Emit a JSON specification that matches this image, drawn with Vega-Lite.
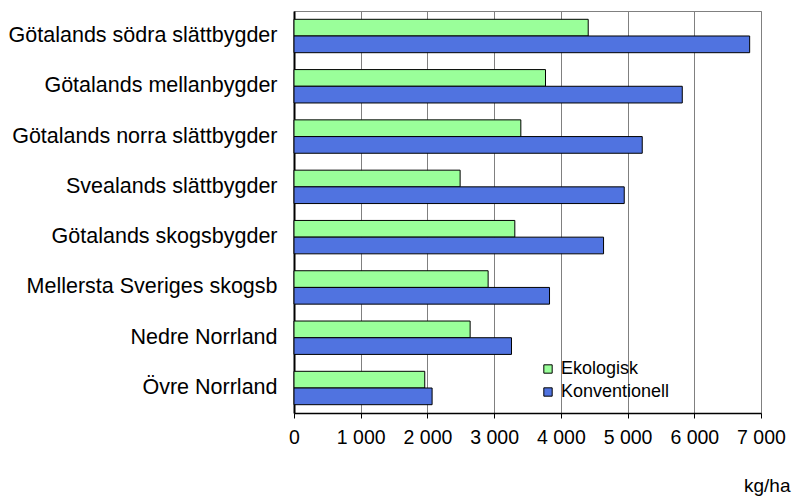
{
  "$schema": "https://vega.github.io/schema/vega-lite/v6.json",
  "width": 467,
  "height": 402,
  "autosize": {"type": "none"},
  "padding": {"left": 294, "top": 11, "right": 31, "bottom": 84},
  "background": "white",
  "data": {
    "values": [
      {"region": "Götalands södra slättbygder", "typ": "Ekologisk", "kg": 4410},
      {"region": "Götalands södra slättbygder", "typ": "Konventionell", "kg": 6830},
      {"region": "Götalands mellanbygder", "typ": "Ekologisk", "kg": 3770},
      {"region": "Götalands mellanbygder", "typ": "Konventionell", "kg": 5820},
      {"region": "Götalands norra slättbygder", "typ": "Ekologisk", "kg": 3400},
      {"region": "Götalands norra slättbygder", "typ": "Konventionell", "kg": 5220},
      {"region": "Svealands slättbygder", "typ": "Ekologisk", "kg": 2490},
      {"region": "Svealands slättbygder", "typ": "Konventionell", "kg": 4950},
      {"region": "Götalands skogsbygder", "typ": "Ekologisk", "kg": 3310},
      {"region": "Götalands skogsbygder", "typ": "Konventionell", "kg": 4640},
      {"region": "Mellersta Sveriges skogsb", "typ": "Ekologisk", "kg": 2910},
      {"region": "Mellersta Sveriges skogsb", "typ": "Konventionell", "kg": 3830},
      {"region": "Nedre Norrland", "typ": "Ekologisk", "kg": 2640},
      {"region": "Nedre Norrland", "typ": "Konventionell", "kg": 3260},
      {"region": "Övre Norrland", "typ": "Ekologisk", "kg": 1960},
      {"region": "Övre Norrland", "typ": "Konventionell", "kg": 2070}
    ]
  },
  "mark": {"type": "bar", "stroke": "black", "strokeWidth": 1},
  "encoding": {
    "y": {
      "field": "region",
      "type": "nominal",
      "sort": null,
      "scale": {"paddingInner": 0.336, "paddingOuter": 0.165},
      "axis": {
        "title": null,
        "ticks": false,
        "labelFont": "Liberation Sans",
        "labelFontSize": 21.5,
        "labelColor": "black",
        "labelPadding": 17,
        "labelLimit": 400,
        "domainColor": "black",
        "domainWidth": 2,
        "grid": false
      }
    },
    "yOffset": {
      "field": "typ",
      "type": "nominal",
      "sort": ["Ekologisk", "Konventionell"],
      "scale": {"paddingInner": 0, "paddingOuter": 0}
    },
    "x": {
      "field": "kg",
      "type": "quantitative",
      "scale": {"domain": [0, 7000], "nice": false},
      "axis": {
        "values": [0, 1000, 2000, 3000, 4000, 5000, 6000, 7000],
        "labelExpr": "replace(format(datum.value, ',d'), ',', ' ')",
        "labelOverlap": false,
        "labelFlush": false,
        "labelFont": "Liberation Sans",
        "labelFontSize": 19.5,
        "labelColor": "black",
        "labelPadding": 10,
        "tickColor": "black",
        "tickSize": 5,
        "domainColor": "black",
        "domainWidth": 1.5,
        "grid": true,
        "gridColor": "#808080",
        "gridWidth": 1,
        "title": "kg/ha",
        "titleFont": "Liberation Sans",
        "titleFontSize": 19,
        "titleFontWeight": "normal",
        "titleColor": "black",
        "titleAnchor": "end",
        "titleAlign": "right",
        "titleBaseline": "alphabetic",
        "titleX": 496,
        "titleY": 78
      }
    },
    "fill": {
      "field": "typ",
      "type": "nominal",
      "sort": ["Ekologisk", "Konventionell"],
      "scale": {"domain": ["Ekologisk", "Konventionell"], "range": ["#9AFF9A", "#5073E0"]},
      "legend": {
        "title": null,
        "orient": "none",
        "legendX": 245,
        "legendY": 349,
        "symbolType": "square",
        "symbolSize": 70,
        "symbolStrokeColor": "black",
        "symbolStrokeWidth": 1,
        "labelFont": "Liberation Sans",
        "labelFontSize": 18,
        "labelColor": "black",
        "labelOffset": 4,
        "rowPadding": 5
      }
    }
  },
  "config": {
    "view": {"stroke": "#808080", "strokeWidth": 1}
  }
}
